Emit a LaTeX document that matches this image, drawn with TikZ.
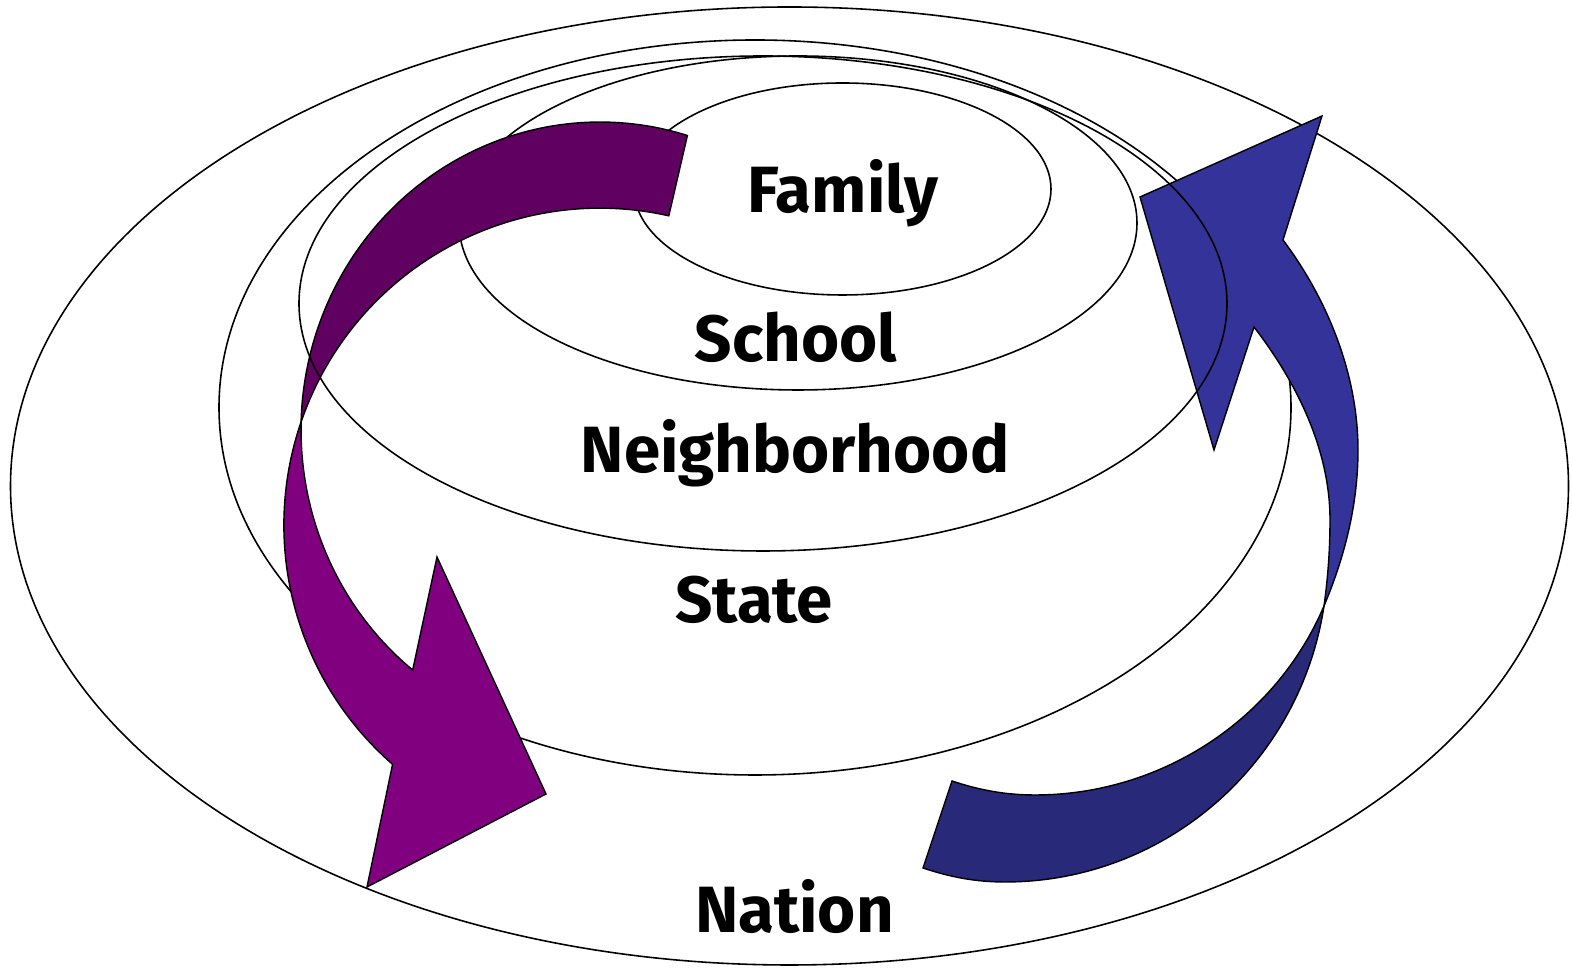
\documentclass[tikz,border=0pt]{standalone}
\usepackage{fontspec}
\setmainfont{Fira Sans}
\definecolor{plumlight}{HTML}{800080}
\definecolor{plumdark}{HTML}{600060}
\definecolor{navylight}{HTML}{333399}
\definecolor{navydark}{HTML}{29297A}
\begin{document}
\begin{tikzpicture}[x=0.01cm,y=-0.01cm,
    ringline/.style={draw=black,line width=0.45pt},
    band/.style={draw=black,line width=0.4pt},
    ringtext/.style={font=\bfseries\fontsize{18.6}{22}\selectfont,anchor=base,inner sep=0pt}]
        \useasboundingbox (0,0) rectangle (1572,968);

        % rings, outermost first
        \draw[ringline] (789.5,486) ellipse [x radius=779, y radius=479];
        \draw[ringline] (755,407.5) ellipse [x radius=536, y radius=367.5];
        \draw[ringline] (798,223) ellipse [x radius=339, y radius=167];
        \draw[ringline] (842.5,189) ellipse [x radius=208.5, y radius=106];

        % purple arrow, back then front
        \filldraw[band,fill=plumdark] (687.4,135.5) arc[start angle=-73, end angle=-178.5, x radius=299, y radius=308]
            arc[start angle=-161, end angle=-77.4, x radius=316, y radius=317] -- cycle;
        \filldraw[band,fill=plumlight] (301.1,421.9) arc[start angle=-161, end angle=-229, x radius=316, y radius=317]
            -- (367,887) -- (546,794) -- (437,557) -- (412.7,670)
            arc[start angle=128.8, end angle=181.5, x radius=299, y radius=308] -- cycle;

        % blue arrow, back then front
        \filldraw[band,fill=navydark] (1324,606) .. controls (1275,721) and (1160,795) .. (1035,795)
            .. controls (1005,795) and (979,790) .. (952,781) -- (923,868)
            .. controls (950,877) and (975,882) .. (1005,882)
            .. controls (1165,882) and (1300,764) .. (1324,606) -- cycle;
        \filldraw[band,fill=navylight] (1324,606) .. controls (1328,577) and (1330,549) .. (1330,520)
            .. controls (1330,450) and (1297,383) .. (1254,327)
            -- (1214,450) -- (1140,197) -- (1322,116) -- (1283,240)
            .. controls (1328,300) and (1358,375) .. (1358,450)
            .. controls (1358,504) and (1345,556) .. (1324,606) -- cycle;

        % this ring lies over the arrows
        \draw[ringline] (763,303.5) ellipse [x radius=464, y radius=247.5];

        \node[ringtext] at (843,213) (family) {Family};
        \node[ringtext] at (796,362) (school) {School};
        \node[ringtext] at (795,473) (neighborhood) {Neighborhood};
        \node[ringtext] at (754,623) (state) {State};
        \node[ringtext] at (794.5,933) (nation) {Nation};
\end{tikzpicture}
\end{document}
